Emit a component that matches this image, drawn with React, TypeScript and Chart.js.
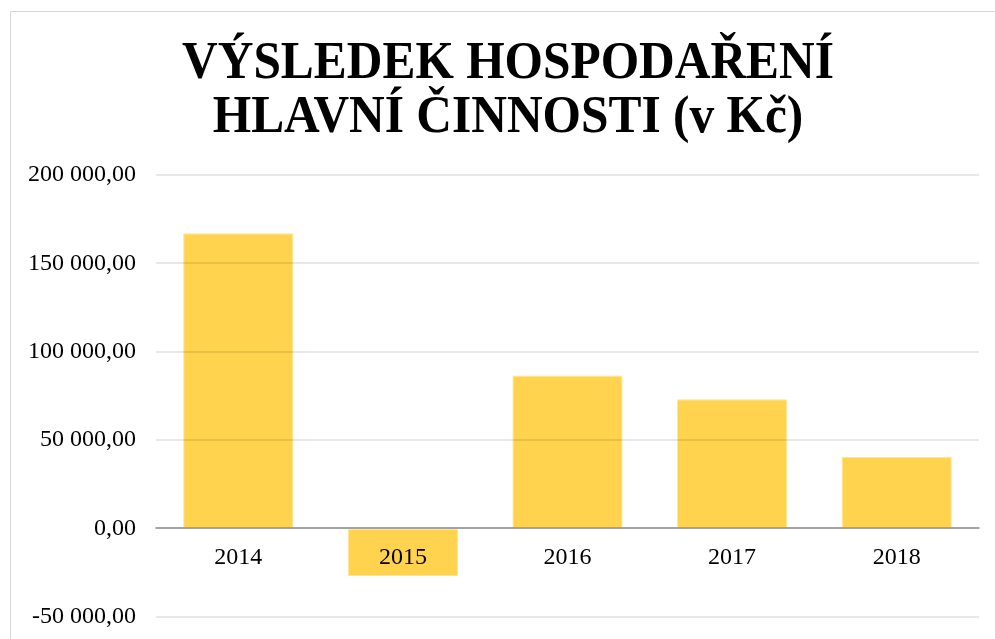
import React, { useEffect, useRef } from "react";
import { Chart, registerables } from "chart.js";

Chart.register(...registerables);

const TITLE_LINES = ["VÝSLEDEK HOSPODAŘENÍ", "HLAVNÍ ČINNOSTI (v Kč)"];
const CATEGORIES = ["2014", "2015", "2016", "2017", "2018"];
const VALUES = [167000, -27000, 86500, 73000, 40300];
const Y_MIN = -50000;
const Y_MAX = 200000;
const Y_STEP = 50000;

const SERIF = '"Liberation Serif", "Times New Roman", serif';
const CANVAS_H = 651;

function formatCz(v: number): string {
  const neg = v < 0;
  const [intPart, dec] = Math.abs(v).toFixed(2).split(".");
  const grouped = intPart.replace(/\B(?=(\d{3})+(?!\d))/g, " ");
  return (neg ? "-" : "") + grouped + "," + dec;
}

const framePlugin = {
  id: "frame",
  beforeDraw(chart: any) {
    const ctx = chart.ctx;
    ctx.save();
    ctx.fillStyle = "#ffffff";
    ctx.fillRect(0, 0, chart.width, chart.height);
    ctx.strokeStyle = "#d6d6d6";
    ctx.lineWidth = 1;
    ctx.beginPath();
    ctx.moveTo(10.5, chart.height);
    ctx.lineTo(10.5, 11.5);
    ctx.lineTo(chart.width, 11.5);
    ctx.stroke();
    ctx.restore();
  },
};

const titlePlugin = {
  id: "condensedTitle",
  afterDraw(chart: any) {
    const ctx = chart.ctx;
    ctx.save();
    ctx.font = "bold 52px " + SERIF;
    ctx.fillStyle = "#000000";
    ctx.textAlign = "center";
    ctx.textBaseline = "alphabetic";
    TITLE_LINES.forEach((line, i) => {
      ctx.save();
      ctx.translate(508, 77.5 + i * 54.5);
      ctx.scale(0.95, 1);
      ctx.fillText(line, 0, 0);
      ctx.restore();
    });
    ctx.restore();
  },
};

export default function App() {
  const ref = useRef<HTMLCanvasElement | null>(null);

  useEffect(() => {
    if (!ref.current) return;
    const chart = new Chart(ref.current, {
      type: "bar",
      data: {
        labels: CATEGORIES,
        datasets: [
          {
            data: VALUES,
            backgroundColor: "#FFD34D",
            borderColor: "#FFE595",
            borderWidth: 1,
            categoryPercentage: 1,
            barPercentage: 0.67,
          },
        ],
      },
      options: {
        responsive: false,
        animation: false,
        devicePixelRatio: 1,
        layout: { padding: { top: 175, left: 28, right: 16, bottom: 12 } },
        plugins: {
          legend: { display: false },
          title: { display: false },
          tooltip: { enabled: false },
        },
        scales: {
          x: {
            position: { y: 0 } as any,
            offset: true,
            grid: { display: false, drawTicks: false },
            border: { display: true, color: "rgba(0,0,0,0.2)", width: 2, z: 1 },
            ticks: {
              z: 1,
              color: "#000000",
              padding: 15,
              font: { family: SERIF, size: 24 },
            },
          } as any,
          y: {
            min: Y_MIN,
            max: Y_MAX,
            afterFit(scale: any) {
              scale.width = 128;
            },
            grid: {
              drawTicks: false,
              z: 1,
              lineWidth: 2,
              color: (c: any) =>
                c.tick && c.tick.value === 0 ? "rgba(0,0,0,0.2)" : "rgba(0,0,0,0.09)",
            },
            border: { display: false },
            ticks: {
              stepSize: Y_STEP,
              padding: 20,
              color: "#000000",
              font: { family: SERIF, size: 24 },
              callback: (v: any) => formatCz(Number(v)),
            },
          },
        },
      },
      plugins: [framePlugin, titlePlugin],
    });
    return () => chart.destroy();
  }, []);

  return (
    <div
      style={{
        position: "absolute",
        left: 0,
        top: 0,
        width: 995,
        height: 639,
        overflow: "hidden",
        background: "#fff",
      }}
    >
      <canvas ref={ref} width={995} height={CANVAS_H} style={{ display: "block" }} />
    </div>
  );
}
